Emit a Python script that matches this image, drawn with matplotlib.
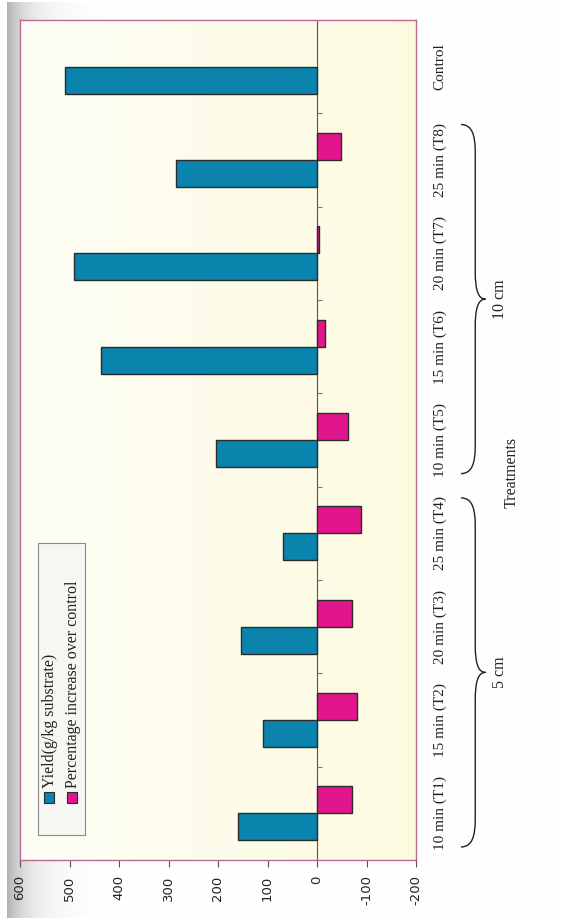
import numpy as np
import matplotlib
matplotlib.use("Agg")
import matplotlib.pyplot as plt
from matplotlib.patches import Rectangle, PathPatch
from matplotlib.path import Path
from matplotlib import transforms

plt.rcParams["axes.unicode_minus"] = False

# ---- data -------------------------------------------------------------
categories = ["10 min (T1)", "15 min (T2)", "20 min (T3)", "25 min (T4)",
              "10 min (T5)", "15 min (T6)", "20 min (T7)", "25 min (T8)",
              "Control"]
yield_vals = [159, 110, 153, 68, 205, 436, 491, 285, 510]
pct_vals = [-70, -80, -70, -88, -62, -16, -4, -48, 0]
value_ticks = [600, 500, 400, 300, 200, 100, 0, -100, -200]
groups = [("5 cm", 0, 3), ("10 cm", 4, 7)]
series_names = ["Yield(g/kg substrate)", "Percentage increase over control"]

BLUE = "#0a84ac"
PINK = "#e2168c"
SERIF = "Liberation Serif"
TXT = "#222222"

W, H = 561, 921
fig = plt.figure(figsize=(W / 100, H / 100), dpi=100)


def fx(x):
    return x / W


def fy(y):
    return 1 - y / H


# page background with the shadow of the binding on the left
bg = fig.add_axes([0, 0, 1, 1], zorder=-10)
bg.axis("off")
xs = np.arange(W)
shade = np.where(xs < 7, 1.0, 1 - 0.30 * np.exp(-(xs - 7) / 22.0))
page = np.ones((H, W, 3)) * shade[None, :, None]
page[:3] = 1.0
page[918:] = 1.0
bg.imshow(page, aspect="auto", extent=[0, 1, 0, 1], transform=bg.transAxes)

# ---- main plot (rotated layout: values run right-to-left) -------------
ax = fig.add_axes([fx(20), fy(860), fx(416) - fx(20), fy(20) - fy(860)])
pos = np.arange(len(categories))
h = 0.29

# pale yellow plot area, slightly lighter towards the left
grad = np.linspace(0, 1, 256)
c0 = np.array([0.995, 0.995, 0.965])
c1 = np.array([0.992, 0.985, 0.880])
fill = c0[None, None, :] * (1 - grad[None, :, None]) + c1[None, None, :] * grad[None, :, None]
ax.imshow(fill, aspect="auto", extent=[0, 1, 0, 1], transform=ax.transAxes, zorder=0)

ax.barh(pos - h / 2, yield_vals, height=h, color=BLUE, edgecolor="#2b2b2b",
        linewidth=[1.0 if v else 0 for v in yield_vals], zorder=3)
ax.barh(pos + h / 2, pct_vals, height=h, color=PINK, edgecolor="#2b2b2b",
        linewidth=[1.0 if v else 0 for v in pct_vals], zorder=3)

ax.set_xlim(600, -200)
ax.set_ylim(-0.5, len(categories) - 0.5)

# zero line with category separators
ax.axvline(0, color="#555555", lw=0.8, zorder=2)
ax.hlines(pos[:-1] + 0.5, 0, -10, color="#777777", lw=0.8, zorder=2)

ax.set_xticks(value_ticks)
ax.set_xticklabels([str(v) for v in value_ticks], rotation=90,
                   family="DejaVu Sans", fontsize=9.5, color=TXT)
ax.tick_params(axis="x", direction="out", length=5, width=0.8,
               color="#555555", pad=6)
ax.set_yticks([])
for s in ax.spines.values():
    s.set_color("#b86a92")
    s.set_linewidth(1.0)

# category labels on the right
tr = transforms.blended_transform_factory(ax.transAxes, ax.transData)
for p, lab in zip(pos, categories):
    ax.text(1.0606, p, lab, rotation=90, ha="center", va="center",
            family=SERIF, fontsize=11, color=TXT, transform=tr, clip_on=False)


def brace(y0, y1, x0=1.1136, a=0.036, b=0.026, r=0.30):
    ym = (y0 + y1) / 2
    verts = [
        (x0, y0),
        (x0 + a * 0.8, y0), (x0 + a, y0 + r * 0.4), (x0 + a, y0 + r),
        (x0 + a, ym - r),
        (x0 + a, ym - r * 0.3), (x0 + a + b * 0.3, ym), (x0 + a + b, ym),
        (x0 + a + b * 0.3, ym), (x0 + a, ym + r * 0.3), (x0 + a, ym + r),
        (x0 + a, y1 - r),
        (x0 + a, y1 - r * 0.4), (x0 + a * 0.8, y1), (x0, y1),
    ]
    codes = [Path.MOVETO,
             Path.CURVE4, Path.CURVE4, Path.CURVE4,
             Path.LINETO,
             Path.CURVE4, Path.CURVE4, Path.CURVE4,
             Path.CURVE4, Path.CURVE4, Path.CURVE4,
             Path.LINETO,
             Path.CURVE4, Path.CURVE4, Path.CURVE4]
    ax.add_patch(PathPatch(Path(verts, codes), fill=False, edgecolor="#222222",
                           lw=1.0, transform=tr, clip_on=False))
    return ym


for name, g0, g1 in groups:
    ym = brace(g0 - 0.36, g1 + 0.38)
    ax.text(1.212, ym, name, rotation=90, ha="center", va="center",
            family=SERIF, fontsize=11.5, color=TXT, transform=tr, clip_on=False)

fig.text(fx(512), fy(472), "Treatments", rotation=90, ha="center", va="center",
         family=SERIF, fontsize=11.5, color=TXT)

# ---- legend (rotated) -------------------------------------------------
fig.patches.append(Rectangle((fx(38), fy(835)), fx(85) - fx(38), fy(543) - fy(835),
                             transform=fig.transFigure, facecolor="#f6f6f3",
                             edgecolor="#8a8a8a", lw=0.8, zorder=5))
for xc, col, name in zip([49, 72], [BLUE, PINK], series_names):
    fig.patches.append(Rectangle((fx(xc - 5), fy(803)), fx(10), fy(792) - fy(803),
                                 transform=fig.transFigure, facecolor=col,
                                 edgecolor="#2b2b2b", lw=0.8, zorder=6))
    fig.text(fx(xc + 1), fy(788), name, rotation=90, rotation_mode="anchor",
             ha="left", va="center", family=SERIF, fontsize=11.5, color=TXT,
             zorder=6)

fig.savefig("out.png", dpi=100)
